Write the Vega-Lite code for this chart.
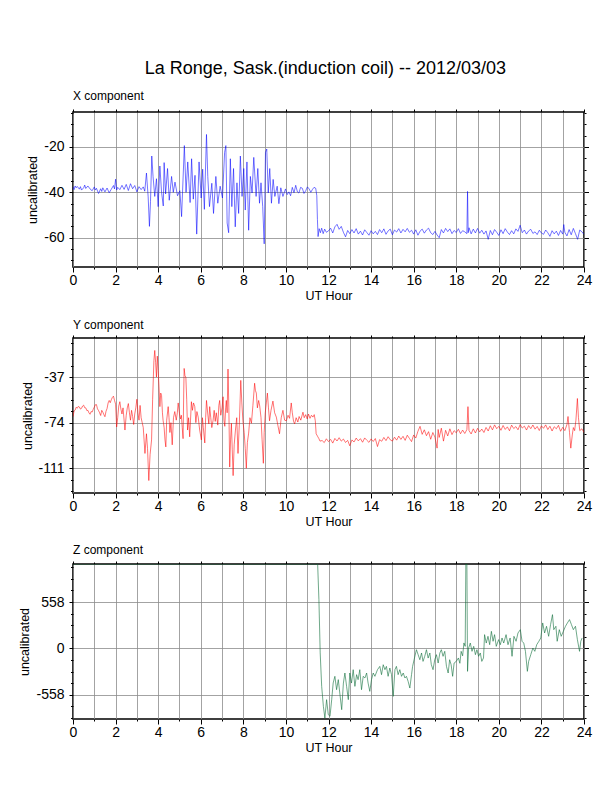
{
  "$schema": "https://vega.github.io/schema/vega-lite/v6.json",
  "background": "white",
  "padding": {"left": 18, "top": 60, "right": 5, "bottom": 5},
  "title": {
    "text": "La Ronge, Sask.(induction coil) -- 2012/03/03",
    "fontSize": 18,
    "fontWeight": "normal",
    "font": "Liberation Sans",
    "anchor": "middle",
    "dx": 20,
    "offset": 10.7
  },
  "spacing": 14,
  "datasets": {
    "xc": [
      {"t":0.0,"v":-37.5},{"t":0.05,"v":-38.8},{"t":0.1,"v":-37.2},{"t":0.15,"v":-38.0},{"t":0.2,"v":-37.4},{"t":0.3,"v":-38.6},{"t":0.35,"v":-37.5},{"t":0.4,"v":-39.0},{"t":0.5,"v":-38.0},{"t":0.55,"v":-36.8},{"t":0.6,"v":-38.3},{"t":0.7,"v":-37.2},{"t":0.8,"v":-38.5},{"t":0.9,"v":-39.3},{"t":1.0,"v":-37.6},{"t":1.05,"v":-39.0},{"t":1.1,"v":-38.2},{"t":1.2,"v":-40.5},{"t":1.3,"v":-38.4},{"t":1.35,"v":-39.6},{"t":1.4,"v":-38.0},{"t":1.5,"v":-39.8},{"t":1.6,"v":-38.1},{"t":1.7,"v":-40.2},{"t":1.8,"v":-38.6},{"t":1.9,"v":-37.0},{"t":1.95,"v":-38.5},{"t":2.0,"v":-34.2},{"t":2.05,"v":-39.0},{"t":2.1,"v":-37.8},{"t":2.2,"v":-38.8},{"t":2.3,"v":-36.9},{"t":2.4,"v":-38.7},{"t":2.5,"v":-36.5},{"t":2.6,"v":-39.2},{"t":2.7,"v":-36.2},{"t":2.8,"v":-38.4},{"t":2.9,"v":-37.0},{"t":3.0,"v":-39.8},{"t":3.1,"v":-37.5},{"t":3.2,"v":-38.8},{"t":3.3,"v":-37.6},{"t":3.37,"v":-39.5},{"t":3.45,"v":-31.5},{"t":3.53,"v":-42.0},{"t":3.59,"v":-55.0},{"t":3.64,"v":-44.0},{"t":3.7,"v":-24.0},{"t":3.76,"v":-33.0},{"t":3.84,"v":-41.8},{"t":3.92,"v":-34.0},{"t":4.0,"v":-46.3},{"t":4.08,"v":-28.4},{"t":4.16,"v":-40.0},{"t":4.24,"v":-46.0},{"t":4.28,"v":-26.9},{"t":4.35,"v":-40.7},{"t":4.44,"v":-29.5},{"t":4.52,"v":-43.5},{"t":4.63,"v":-33.0},{"t":4.71,"v":-40.0},{"t":4.79,"v":-35.5},{"t":4.91,"v":-41.5},{"t":5.02,"v":-39.3},{"t":5.1,"v":-50.7},{"t":5.23,"v":-19.4},{"t":5.31,"v":-40.0},{"t":5.39,"v":-26.6},{"t":5.5,"v":-44.5},{"t":5.57,"v":-25.2},{"t":5.65,"v":-43.0},{"t":5.73,"v":-32.5},{"t":5.81,"v":-58.4},{"t":5.92,"v":-26.6},{"t":6.02,"v":-42.5},{"t":6.09,"v":-29.8},{"t":6.17,"v":-47.5},{"t":6.27,"v":-14.5},{"t":6.33,"v":-33.0},{"t":6.41,"v":-46.3},{"t":6.52,"v":-36.0},{"t":6.6,"v":-49.3},{"t":6.71,"v":-33.0},{"t":6.8,"v":-44.8},{"t":6.91,"v":-37.3},{"t":7.02,"v":-42.5},{"t":7.12,"v":-22.4},{"t":7.18,"v":-19.4},{"t":7.24,"v":-53.5},{"t":7.31,"v":-57.8},{"t":7.39,"v":-25.2},{"t":7.46,"v":-46.3},{"t":7.54,"v":-29.5},{"t":7.62,"v":-55.2},{"t":7.7,"v":-35.8},{"t":7.78,"v":-49.3},{"t":7.86,"v":-24.0},{"t":7.94,"v":-41.8},{"t":8.02,"v":-29.5},{"t":8.09,"v":-47.8},{"t":8.17,"v":-26.6},{"t":8.25,"v":-56.7},{"t":8.33,"v":-33.0},{"t":8.41,"v":-40.3},{"t":8.49,"v":-24.6},{"t":8.6,"v":-41.8},{"t":8.68,"v":-29.5},{"t":8.76,"v":-44.8},{"t":8.83,"v":-35.8},{"t":8.91,"v":-46.3},{"t":8.98,"v":-62.7},{"t":9.04,"v":-22.4},{"t":9.1,"v":-20.9},{"t":9.17,"v":-40.3},{"t":9.24,"v":-29.5},{"t":9.32,"v":-44.8},{"t":9.4,"v":-34.3},{"t":9.48,"v":-41.8},{"t":9.59,"v":-37.3},{"t":9.67,"v":-45.0},{"t":9.76,"v":-38.0},{"t":9.86,"v":-41.8},{"t":9.98,"v":-38.5},{"t":10.06,"v":-41.0},{"t":10.14,"v":-39.8},{"t":10.22,"v":-41.5},{"t":10.3,"v":-37.8},{"t":10.38,"v":-40.2},{"t":10.46,"v":-36.9},{"t":10.54,"v":-39.8},{"t":10.61,"v":-40.3},{"t":10.69,"v":-37.8},{"t":10.77,"v":-38.2},{"t":10.85,"v":-40.5},{"t":10.93,"v":-39.3},{"t":11.01,"v":-37.6},{"t":11.09,"v":-38.5},{"t":11.17,"v":-40.0},{"t":11.24,"v":-38.8},{"t":11.32,"v":-37.8},{"t":11.4,"v":-38.2},{"t":11.45,"v":-41.5},{"t":11.48,"v":-52.0},{"t":11.51,"v":-59.5},{"t":11.56,"v":-56.0},{"t":11.62,"v":-57.8},{"t":11.68,"v":-55.8},{"t":11.75,"v":-58.2},{"t":11.82,"v":-56.2},{"t":11.9,"v":-57.6},
      {"t":12.0,"v":-57.0},{"t":12.1,"v":-55.8},{"t":12.2,"v":-57.9},{"t":12.3,"v":-55.2},{"t":12.4,"v":-54.1},{"t":12.5,"v":-56.3},{"t":12.6,"v":-55.0},{"t":12.7,"v":-57.6},{"t":12.8,"v":-59.6},{"t":12.9,"v":-56.8},{"t":13.0,"v":-58.2},{"t":13.1,"v":-56.4},{"t":13.2,"v":-57.9},{"t":13.3,"v":-56.0},{"t":13.4,"v":-58.4},{"t":13.5,"v":-57.1},{"t":13.6,"v":-58.8},{"t":13.7,"v":-56.5},{"t":13.8,"v":-57.7},{"t":13.9,"v":-58.9},{"t":14.0,"v":-56.9},{"t":14.1,"v":-58.3},{"t":14.2,"v":-57.2},{"t":14.3,"v":-58.6},{"t":14.4,"v":-56.4},{"t":14.5,"v":-57.8},{"t":14.6,"v":-56.1},{"t":14.7,"v":-58.5},{"t":14.8,"v":-57.0},{"t":14.9,"v":-56.2},{"t":15.0,"v":-58.7},{"t":15.1,"v":-56.6},{"t":15.2,"v":-57.5},{"t":15.3,"v":-56.0},{"t":15.4,"v":-57.9},{"t":15.5,"v":-56.3},{"t":15.6,"v":-57.4},{"t":15.7,"v":-55.9},{"t":15.8,"v":-57.6},{"t":15.9,"v":-56.7},{"t":16.0,"v":-58.4},{"t":16.1,"v":-56.5},{"t":16.2,"v":-58.9},{"t":16.3,"v":-57.1},{"t":16.4,"v":-56.2},{"t":16.5,"v":-58.0},{"t":16.6,"v":-56.6},{"t":16.7,"v":-55.8},{"t":16.8,"v":-57.8},{"t":16.9,"v":-58.6},{"t":17.0,"v":-57.2},{"t":17.1,"v":-58.8},{"t":17.2,"v":-60.0},{"t":17.3,"v":-56.4},{"t":17.4,"v":-57.9},{"t":17.5,"v":-55.9},{"t":17.6,"v":-57.3},{"t":17.7,"v":-56.1},{"t":17.8,"v":-58.2},{"t":17.9,"v":-56.8},{"t":18.0,"v":-57.7},{"t":18.1,"v":-56.0},{"t":18.2,"v":-58.1},{"t":18.3,"v":-56.9},{"t":18.4,"v":-57.4},{"t":18.5,"v":-58.2},{"t":18.53,"v":-39.6},{"t":18.56,"v":-57.8},{"t":18.6,"v":-55.6},{"t":18.7,"v":-58.3},{"t":18.8,"v":-56.2},{"t":18.9,"v":-57.9},{"t":19.0,"v":-55.9},{"t":19.1,"v":-58.0},{"t":19.2,"v":-56.7},{"t":19.3,"v":-58.4},{"t":19.4,"v":-57.0},{"t":19.5,"v":-60.7},{"t":19.6,"v":-56.8},{"t":19.7,"v":-58.7},{"t":19.8,"v":-56.4},{"t":19.9,"v":-57.6},{"t":20.0,"v":-59.0},{"t":20.1,"v":-56.5},{"t":20.2,"v":-58.2},{"t":20.3,"v":-56.0},{"t":20.4,"v":-57.5},{"t":20.5,"v":-58.6},{"t":20.6,"v":-56.9},{"t":20.7,"v":-58.3},{"t":20.8,"v":-56.1},{"t":20.9,"v":-57.2},{"t":21.0,"v":-54.5},{"t":21.1,"v":-57.8},{"t":21.2,"v":-56.6},{"t":21.3,"v":-58.4},{"t":21.4,"v":-57.0},{"t":21.5,"v":-56.3},{"t":21.6,"v":-58.1},{"t":21.7,"v":-57.4},{"t":21.8,"v":-58.6},{"t":21.9,"v":-56.7},{"t":22.0,"v":-57.9},{"t":22.1,"v":-58.5},{"t":22.2,"v":-56.6},{"t":22.3,"v":-57.8},{"t":22.4,"v":-59.4},{"t":22.5,"v":-56.9},{"t":22.6,"v":-58.3},{"t":22.7,"v":-57.1},{"t":22.8,"v":-59.0},{"t":22.9,"v":-56.8},{"t":23.0,"v":-58.4},{"t":23.05,"v":-54.2},{"t":23.1,"v":-57.6},{"t":23.2,"v":-59.2},{"t":23.3,"v":-56.4},{"t":23.4,"v":-58.7},{"t":23.5,"v":-55.9},{"t":23.6,"v":-58.2},{"t":23.7,"v":-60.7},{"t":23.8,"v":-56.6},{"t":23.9,"v":-57.4},{"t":24.0,"v":-58.5}
    ],
    "yc": [
      {"t":0.0,"v":-69.2},{"t":0.05,"v":-64.5},{"t":0.1,"v":-63.8},{"t":0.15,"v":-61.5},{"t":0.2,"v":-62.3},{"t":0.25,"v":-60.8},{"t":0.3,"v":-61.3},{"t":0.35,"v":-63.0},{"t":0.4,"v":-62.4},{"t":0.45,"v":-60.5},{"t":0.5,"v":-59.8},{"t":0.55,"v":-61.9},{"t":0.6,"v":-62.0},{"t":0.65,"v":-64.2},{"t":0.7,"v":-64.0},{"t":0.75,"v":-66.1},{"t":0.8,"v":-67.2},{"t":0.85,"v":-65.0},{"t":0.9,"v":-65.4},{"t":0.95,"v":-63.2},{"t":1.0,"v":-61.4},{"t":1.05,"v":-59.5},{"t":1.1,"v":-59.3},{"t":1.15,"v":-62.8},{"t":1.2,"v":-64.2},{"t":1.25,"v":-66.0},{"t":1.3,"v":-68.2},{"t":1.35,"v":-64.0},{"t":1.4,"v":-65.4},{"t":1.45,"v":-67.5},{"t":1.5,"v":-69.2},{"t":1.55,"v":-64.8},{"t":1.6,"v":-62.5},{"t":1.65,"v":-58.0},{"t":1.7,"v":-56.0},{"t":1.75,"v":-57.8},{"t":1.8,"v":-55.4},{"t":1.85,"v":-53.5},{"t":1.9,"v":-52.5},{"t":1.95,"v":-56.0},{"t":2.0,"v":-59.0},{"t":2.05,"v":-77.5},{"t":2.1,"v":-70.0},{"t":2.15,"v":-60.5},{"t":2.2,"v":-57.0},{"t":2.25,"v":-63.0},{"t":2.3,"v":-67.0},{"t":2.35,"v":-62.0},{"t":2.44,"v":-80.0},{"t":2.5,"v":-68.0},{"t":2.55,"v":-62.0},{"t":2.6,"v":-58.5},{"t":2.65,"v":-66.0},{"t":2.7,"v":-72.0},{"t":2.75,"v":-64.0},{"t":2.8,"v":-69.0},{"t":2.85,"v":-75.5},{"t":2.9,"v":-67.0},{"t":2.95,"v":-62.0},{"t":3.0,"v":-55.0},{"t":3.05,"v":-66.0},{"t":3.1,"v":-72.0},{"t":3.15,"v":-60.0},{"t":3.2,"v":-70.0},{"t":3.25,"v":-74.0},{"t":3.3,"v":-78.0},{"t":3.38,"v":-99.0},{"t":3.45,"v":-83.0},{"t":3.5,"v":-95.0},{"t":3.56,"v":-121.0},{"t":3.62,"v":-100.0},{"t":3.69,"v":-88.0},{"t":3.74,"v":-55.0},{"t":3.8,"v":-23.5},{"t":3.84,"v":-15.4},{"t":3.88,"v":-25.0},{"t":3.92,"v":-37.0},{"t":3.96,"v":-20.0},{"t":4.0,"v":-31.6},{"t":4.04,"v":-45.0},{"t":4.08,"v":-61.0},{"t":4.12,"v":-50.0},{"t":4.16,"v":-52.0},{"t":4.2,"v":-66.0},{"t":4.23,"v":-72.0},{"t":4.28,"v":-78.0},{"t":4.32,"v":-88.0},{"t":4.36,"v":-93.7},{"t":4.4,"v":-72.0},{"t":4.47,"v":-61.0},{"t":4.51,"v":-70.0},{"t":4.55,"v":-82.0},{"t":4.6,"v":-74.0},{"t":4.66,"v":-92.0},{"t":4.72,"v":-70.0},{"t":4.78,"v":-65.0},{"t":4.85,"v":-72.0},{"t":4.9,"v":-66.0},{"t":4.94,"v":-58.0},{"t":5.0,"v":-66.5},{"t":5.05,"v":-71.0},{"t":5.09,"v":-68.0},{"t":5.13,"v":-78.0},{"t":5.17,"v":-87.0},{"t":5.2,"v":-50.0},{"t":5.22,"v":-30.0},{"t":5.26,"v":-36.0},{"t":5.3,"v":-37.0},{"t":5.34,"v":-55.0},{"t":5.38,"v":-80.0},{"t":5.43,"v":-70.0},{"t":5.48,"v":-85.5},{"t":5.52,"v":-72.0},{"t":5.56,"v":-57.0},{"t":5.61,"v":-64.0},{"t":5.66,"v":-58.0},{"t":5.72,"v":-61.0},{"t":5.77,"v":-74.0},{"t":5.82,"v":-65.0},{"t":5.88,"v":-69.5},{"t":5.95,"v":-80.0},{"t":6.03,"v":-88.0},{"t":6.08,"v":-70.0},{"t":6.12,"v":-78.0},{"t":6.19,"v":-90.5},{"t":6.23,"v":-70.0},{"t":6.27,"v":-56.0},{"t":6.33,"v":-67.0},{"t":6.38,"v":-75.0},{"t":6.42,"v":-61.0},{"t":6.47,"v":-70.0},{"t":6.52,"v":-78.0},{"t":6.58,"v":-72.0},{"t":6.63,"v":-64.0},{"t":6.68,"v":-73.0},{"t":6.73,"v":-66.0},{"t":6.8,"v":-76.0},{"t":6.85,"v":-60.0},{"t":6.89,"v":-56.0},{"t":6.94,"v":-68.0},{"t":7.0,"v":-62.0},{"t":7.05,"v":-53.0},{"t":7.09,"v":-72.0},{"t":7.13,"v":-77.0},{"t":7.17,"v":-62.0},{"t":7.2,"v":-56.0},{"t":7.24,"v":-66.0},{"t":7.28,"v":-30.5},{"t":7.32,"v":-62.0},{"t":7.36,"v":-110.0},{"t":7.4,"v":-88.0},{"t":7.44,"v":-74.5},{"t":7.48,"v":-96.0},{"t":7.52,"v":-117.0},{"t":7.57,"v":-92.0},{"t":7.63,"v":-80.0},{"t":7.69,"v":-70.0},{"t":7.75,"v":-99.0},{"t":7.81,"v":-76.0},{"t":7.88,"v":-39.7},{"t":7.93,"v":-58.0},{"t":7.98,"v":-72.5},{"t":8.04,"v":-82.0},{"t":8.09,"v":-95.0},{"t":8.14,"v":-111.0},{"t":8.19,"v":-90.0},{"t":8.25,"v":-82.5},{"t":8.31,"v":-70.0},{"t":8.38,"v":-74.5},{"t":8.45,"v":-60.0},{"t":8.53,"v":-42.0},{"t":8.57,"v":-48.0},{"t":8.61,"v":-50.0},{"t":8.66,"v":-62.0},{"t":8.72,"v":-56.0},{"t":8.77,"v":-60.5},{"t":8.83,"v":-70.0},{"t":8.88,"v":-87.5},{"t":8.94,"v":-107.0},{"t":8.98,"v":-82.0},{"t":9.03,"v":-66.0},{"t":9.08,"v":-58.0},{"t":9.13,"v":-50.0},{"t":9.18,"v":-62.0},{"t":9.23,"v":-72.5},{"t":9.3,"v":-64.0},{"t":9.39,"v":-56.5},{"t":9.47,"v":-66.0},{"t":9.55,"v":-69.5},{"t":9.62,"v":-76.0},{"t":9.7,"v":-83.0},{"t":9.78,"v":-70.0},{"t":9.86,"v":-64.0},{"t":9.94,"v":-72.0},{"t":10.02,"v":-72.5},{"t":10.1,"v":-68.0},{"t":10.17,"v":-70.5},{"t":10.25,"v":-58.0},{"t":10.3,"v":-66.0},{"t":10.36,"v":-73.0},{"t":10.41,"v":-75.0},{"t":10.48,"v":-70.0},{"t":10.56,"v":-73.5},{"t":10.62,"v":-69.0},{"t":10.7,"v":-72.0},{"t":10.8,"v":-65.5},{"t":10.86,"v":-70.0},{"t":10.93,"v":-67.5},{"t":11.0,"v":-71.0},{"t":11.06,"v":-67.0},{"t":11.13,"v":-70.5},{"t":11.2,"v":-68.0},{"t":11.27,"v":-69.5},{"t":11.33,"v":-67.5},{"t":11.38,"v":-72.5},{"t":11.42,"v":-83.0},{"t":11.5,"v":-85.5},{"t":11.55,"v":-87.0},{"t":11.6,"v":-89.0},
      {"t":11.7,"v":-88.5},{"t":11.8,"v":-90.2},{"t":11.9,"v":-87.1},{"t":12.0,"v":-89.4},{"t":12.1,"v":-87.6},{"t":12.2,"v":-90.6},{"t":12.3,"v":-86.8},{"t":12.4,"v":-88.9},{"t":12.5,"v":-86.2},{"t":12.6,"v":-89.0},{"t":12.7,"v":-87.3},{"t":12.8,"v":-90.1},{"t":12.9,"v":-88.4},{"t":13.0,"v":-92.8},{"t":13.1,"v":-88.0},{"t":13.2,"v":-89.7},{"t":13.3,"v":-86.5},{"t":13.4,"v":-88.8},{"t":13.5,"v":-87.0},{"t":13.6,"v":-89.9},{"t":13.7,"v":-86.4},{"t":13.8,"v":-88.3},{"t":13.9,"v":-90.0},{"t":14.0,"v":-87.2},{"t":14.1,"v":-89.3},{"t":14.2,"v":-86.9},{"t":14.3,"v":-93.4},{"t":14.4,"v":-87.8},{"t":14.5,"v":-89.1},{"t":14.6,"v":-86.0},{"t":14.7,"v":-88.6},{"t":14.8,"v":-85.4},{"t":14.9,"v":-87.9},{"t":15.0,"v":-89.0},{"t":15.1,"v":-85.8},{"t":15.2,"v":-88.2},{"t":15.3,"v":-84.9},{"t":15.4,"v":-87.6},{"t":15.5,"v":-85.1},{"t":15.6,"v":-88.4},{"t":15.7,"v":-84.2},{"t":15.8,"v":-86.8},{"t":15.9,"v":-89.4},{"t":16.0,"v":-84.0},{"t":16.1,"v":-86.5},{"t":16.2,"v":-81.0},{"t":16.3,"v":-77.0},{"t":16.4,"v":-83.5},{"t":16.5,"v":-79.8},{"t":16.6,"v":-84.6},{"t":16.7,"v":-81.3},{"t":16.8,"v":-87.5},{"t":16.9,"v":-82.0},{"t":17.0,"v":-85.8},{"t":17.1,"v":-94.7},{"t":17.15,"v":-79.5},{"t":17.2,"v":-86.0},{"t":17.3,"v":-78.5},{"t":17.4,"v":-89.0},{"t":17.5,"v":-80.2},{"t":17.6,"v":-84.8},{"t":17.7,"v":-79.0},{"t":17.8,"v":-83.7},{"t":17.9,"v":-80.5},{"t":18.0,"v":-82.2},{"t":18.1,"v":-79.4},{"t":18.2,"v":-83.0},{"t":18.3,"v":-80.0},{"t":18.4,"v":-82.8},{"t":18.5,"v":-79.6},{"t":18.55,"v":-61.0},{"t":18.6,"v":-80.5},{"t":18.7,"v":-83.2},{"t":18.8,"v":-79.0},{"t":18.9,"v":-82.4},{"t":19.0,"v":-78.6},{"t":19.1,"v":-81.5},{"t":19.2,"v":-79.2},{"t":19.3,"v":-82.0},{"t":19.4,"v":-77.9},{"t":19.5,"v":-80.8},{"t":19.6,"v":-76.5},{"t":19.7,"v":-79.9},{"t":19.8,"v":-75.8},{"t":19.9,"v":-78.9},{"t":20.0,"v":-77.0},{"t":20.1,"v":-80.2},{"t":20.2,"v":-76.3},{"t":20.3,"v":-79.5},{"t":20.4,"v":-77.4},{"t":20.5,"v":-80.6},{"t":20.6,"v":-76.0},{"t":20.7,"v":-78.8},{"t":20.8,"v":-77.2},{"t":20.9,"v":-79.8},{"t":21.0,"v":-75.6},{"t":21.1,"v":-78.4},{"t":21.2,"v":-76.8},{"t":21.3,"v":-80.0},{"t":21.4,"v":-76.4},{"t":21.5,"v":-78.9},{"t":21.6,"v":-75.9},{"t":21.7,"v":-79.3},{"t":21.8,"v":-77.1},{"t":21.9,"v":-80.4},{"t":22.0,"v":-76.6},{"t":22.1,"v":-78.6},{"t":22.2,"v":-75.8},{"t":22.3,"v":-79.6},{"t":22.4,"v":-76.9},{"t":22.5,"v":-80.8},{"t":22.6,"v":-77.3},{"t":22.7,"v":-79.0},{"t":22.8,"v":-76.2},{"t":22.9,"v":-81.0},{"t":23.0,"v":-77.8},{"t":23.1,"v":-80.5},{"t":23.2,"v":-75.5},{"t":23.25,"v":-69.0},{"t":23.32,"v":-82.0},{"t":23.38,"v":-94.7},{"t":23.45,"v":-84.0},{"t":23.5,"v":-78.0},{"t":23.56,"v":-80.5},{"t":23.62,"v":-72.0},{"t":23.69,"v":-54.4},{"t":23.74,"v":-70.0},{"t":23.8,"v":-80.5},{"t":23.9,"v":-79.0},{"t":24.0,"v":-82.0}
    ],
    "zc": [
      {"t":0.0,"v":1016},{"t":6.0,"v":1016},{"t":11.49,"v":1016},{"t":11.55,"v":587},{"t":11.61,"v":-55},{"t":11.68,"v":-458},{"t":11.76,"v":-699},{"t":11.83,"v":-839},{"t":11.91,"v":-618},{"t":11.99,"v":-799},{"t":12.07,"v":-819},{"t":12.15,"v":-618},{"t":12.22,"v":-417},{"t":12.3,"v":-337},{"t":12.38,"v":-498},{"t":12.46,"v":-377},{"t":12.53,"v":-538},{"t":12.62,"v":-739},{"t":12.7,"v":-418},{"t":12.77,"v":-297},{"t":12.85,"v":-458},{"t":12.93,"v":-618},{"t":13.0,"v":-297},{"t":13.08,"v":-418},{"t":13.16,"v":-257},{"t":13.24,"v":-458},{"t":13.32,"v":-317},{"t":13.39,"v":-377},{"t":13.47,"v":-257},{"t":13.55,"v":-498},{"t":13.63,"v":-337},{"t":13.71,"v":-357},{"t":13.79,"v":-297},{"t":13.86,"v":-418},{"t":13.94,"v":-518},{"t":14.02,"v":-377},{"t":14.1,"v":-297},{"t":14.18,"v":-337},{"t":14.3,"v":-257},{"t":14.41,"v":-217},{"t":14.49,"v":-317},{"t":14.57,"v":-197},{"t":14.65,"v":-257},{"t":14.72,"v":-217},{"t":14.8,"v":-337},{"t":14.88,"v":-237},{"t":14.96,"v":-317},{"t":15.04,"v":-578},{"t":15.12,"v":-257},{"t":15.19,"v":-217},{"t":15.27,"v":-317},{"t":15.35,"v":-257},{"t":15.43,"v":-337},{"t":15.51,"v":-297},{"t":15.59,"v":-357},{"t":15.66,"v":-337},{"t":15.74,"v":-398},{"t":15.82,"v":-478},{"t":15.9,"v":-317},{"t":15.95,"v":-217},{"t":16.02,"v":-137},{"t":16.13,"v":-16},{"t":16.21,"v":-76},{"t":16.29,"v":-137},{"t":16.37,"v":-56},{"t":16.44,"v":-157},{"t":16.52,"v":-96},{"t":16.6,"v":-16},{"t":16.68,"v":-117},{"t":16.76,"v":-56},{"t":16.83,"v":-197},{"t":16.91,"v":-257},{"t":16.99,"v":-137},{"t":17.07,"v":-76},{"t":17.15,"v":-177},{"t":17.23,"v":-56},{"t":17.3,"v":-16},{"t":17.38,"v":-96},{"t":17.46,"v":-36},{"t":17.54,"v":-217},{"t":17.62,"v":-297},{"t":17.69,"v":-137},{"t":17.76,"v":-197},{"t":17.83,"v":-337},{"t":17.9,"v":-177},{"t":18.0,"v":-157},{"t":18.1,"v":-116},{"t":18.17,"v":-180},{"t":18.23,"v":-36},{"t":18.3,"v":-90},{"t":18.36,"v":65},{"t":18.42,"v":24},{"t":18.45,"v":1016},{"t":18.5,"v":1016},{"t":18.53,"v":-277},{"t":18.58,"v":4},{"t":18.66,"v":64},{"t":18.74,"v":-36},{"t":18.82,"v":24},{"t":18.9,"v":-76},{"t":18.97,"v":-16},{"t":19.05,"v":-96},{"t":19.13,"v":-56},{"t":19.2,"v":-157},{"t":19.28,"v":-116},{"t":19.33,"v":165},{"t":19.41,"v":64},{"t":19.49,"v":145},{"t":19.57,"v":44},{"t":19.65,"v":205},{"t":19.73,"v":85},{"t":19.8,"v":165},{"t":19.88,"v":24},{"t":19.99,"v":105},{"t":20.07,"v":44},{"t":20.15,"v":125},{"t":20.23,"v":64},{"t":20.34,"v":165},{"t":20.43,"v":44},{"t":20.53,"v":125},{"t":20.62,"v":-96},{"t":20.71,"v":145},{"t":20.81,"v":85},{"t":20.9,"v":185},{"t":21.01,"v":225},{"t":21.09,"v":85},{"t":21.17,"v":64},{"t":21.25,"v":-36},{"t":21.34,"v":-277},{"t":21.4,"v":-157},{"t":21.5,"v":-76},{"t":21.6,"v":4},{"t":21.69,"v":-36},{"t":21.78,"v":44},{"t":21.88,"v":85},{"t":21.97,"v":125},{"t":22.06,"v":306},{"t":22.15,"v":185},{"t":22.24,"v":266},{"t":22.34,"v":145},{"t":22.43,"v":286},{"t":22.52,"v":406},{"t":22.58,"v":225},{"t":22.68,"v":266},{"t":22.74,"v":85},{"t":22.84,"v":225},{"t":22.93,"v":145},{"t":23.03,"v":205},{"t":23.13,"v":266},{"t":23.22,"v":306},{"t":23.32,"v":346},{"t":23.41,"v":286},{"t":23.5,"v":225},{"t":23.6,"v":266},{"t":23.69,"v":105},{"t":23.79,"v":-36},{"t":23.85,"v":85},{"t":23.91,"v":125}
    ]
  },
  "vconcat": [
    {
      "title": {"text": "X component", "anchor": "start", "frame": "group", "fontSize": 12, "fontWeight": "normal", "offset": 3},
      "width": 511,
      "height": 155,
      "data": {"name": "xc"},
      "layer": [
        {
          "mark": {"type": "line", "stroke": "#0000ff", "strokeWidth": 0.55, "clip": true},
          "encoding": {
            "x": {"field": "t", "type": "quantitative", "scale": {"domain": [0, 24], "nice": false},
              "axis": {"orient": "bottom", "title": "UT Hour", "labelPadding": 1, "titlePadding": 2.5, "values": [0,1,2,3,4,5,6,7,8,9,10,11,12,13,14,15,16,17,18,19,20,21,22,23,24],
                "labelExpr": "datum.value % 2 == 0 ? '' + datum.value : ''", "grid": true,
                "tickSize": {"condition": {"test": "datum.value % 2 == 0", "value": 5}, "value": 2}}},
            "y": {"field": "v", "type": "quantitative", "scale": {"domain": [-72.9, -4.6], "nice": false, "zero": false},
              "axis": {"orient": "left", "title": "uncalibrated", "values": [-70,-65,-60,-55,-50,-45,-40,-35,-30,-25,-20,-15,-10,-5],
                "labelExpr": "datum.value % 20 == 0 ? '' + datum.value : ''", "grid": true,
                "gridOpacity": {"condition": {"test": "datum.value % 20 == 0", "value": 1}, "value": 0},
                "tickSize": {"condition": {"test": "datum.value % 20 == 0", "value": 4}, "value": 2.5}}}
          }
        },
        {
          "mark": {"type": "line", "strokeOpacity": 0},
          "encoding": {
            "x": {"field": "t", "type": "quantitative",
              "axis": {"orient": "top", "title": null, "labels": false, "grid": false, "values": [0,1,2,3,4,5,6,7,8,9,10,11,12,13,14,15,16,17,18,19,20,21,22,23,24],
                "tickSize": {"condition": {"test": "datum.value % 2 == 0", "value": 3}, "value": 2}}},
            "y": {"field": "v", "type": "quantitative",
              "axis": {"orient": "right", "title": null, "labels": false, "grid": false, "values": [-70,-65,-60,-55,-50,-45,-40,-35,-30,-25,-20,-15,-10,-5],
                "tickSize": {"condition": {"test": "datum.value % 20 == 0", "value": 4.5}, "value": 2}}}
          }
        }
      ],
      "resolve": {"axis": {"x": "independent", "y": "independent"}}
    },
    {
      "title": {"text": "Y component", "anchor": "start", "frame": "group", "fontSize": 12, "fontWeight": "normal", "offset": 3},
      "width": 511,
      "height": 155,
      "data": {"name": "yc"},
      "layer": [
        {
          "mark": {"type": "line", "stroke": "#ff0000", "strokeWidth": 0.55, "clip": true},
          "encoding": {
            "x": {"field": "t", "type": "quantitative", "scale": {"domain": [0, 24], "nice": false},
              "axis": {"orient": "bottom", "title": "UT Hour", "labelPadding": 1, "titlePadding": 2.5, "values": [0,1,2,3,4,5,6,7,8,9,10,11,12,13,14,15,16,17,18,19,20,21,22,23,24],
                "labelExpr": "datum.value % 2 == 0 ? '' + datum.value : ''", "grid": true,
                "tickSize": {"condition": {"test": "datum.value % 2 == 0", "value": 5}, "value": 2}}},
            "y": {"field": "v", "type": "quantitative", "scale": {"domain": [-131.1, -5.3], "nice": false, "zero": false},
              "axis": {"orient": "left", "title": "uncalibrated", "values": [-129.5,-120.25,-111,-101.75,-92.5,-83.25,-74,-64.75,-55.5,-46.25,-37,-27.75,-18.5,-9.25],
                "labelExpr": "datum.value % 37 == 0 ? '' + datum.value : ''", "grid": true,
                "gridOpacity": {"condition": {"test": "datum.value % 37 == 0", "value": 1}, "value": 0},
                "tickSize": {"condition": {"test": "datum.value % 37 == 0", "value": 4}, "value": 2.5}}}
          }
        },
        {
          "mark": {"type": "line", "strokeOpacity": 0},
          "encoding": {
            "x": {"field": "t", "type": "quantitative",
              "axis": {"orient": "top", "title": null, "labels": false, "grid": false, "values": [0,1,2,3,4,5,6,7,8,9,10,11,12,13,14,15,16,17,18,19,20,21,22,23,24],
                "tickSize": {"condition": {"test": "datum.value % 2 == 0", "value": 3}, "value": 2}}},
            "y": {"field": "v", "type": "quantitative",
              "axis": {"orient": "right", "title": null, "labels": false, "grid": false, "values": [-129.5,-120.25,-111,-101.75,-92.5,-83.25,-74,-64.75,-55.5,-46.25,-37,-27.75,-18.5,-9.25],
                "tickSize": {"condition": {"test": "datum.value % 37 == 0", "value": 4.5}, "value": 2}}}
          }
        }
      ],
      "resolve": {"axis": {"x": "independent", "y": "independent"}}
    },
    {
      "title": {"text": "Z component", "anchor": "start", "frame": "group", "fontSize": 12, "fontWeight": "normal", "offset": 3},
      "width": 511,
      "height": 155,
      "data": {"name": "zc"},
      "layer": [
        {
          "mark": {"type": "line", "stroke": "#0f6e3a", "strokeWidth": 0.6, "clip": true},
          "encoding": {
            "x": {"field": "t", "type": "quantitative", "scale": {"domain": [0, 24], "nice": false},
              "axis": {"orient": "bottom", "title": "UT Hour", "labelPadding": 1, "titlePadding": 2.5, "values": [0,1,2,3,4,5,6,7,8,9,10,11,12,13,14,15,16,17,18,19,20,21,22,23,24],
                "labelExpr": "datum.value % 2 == 0 ? '' + datum.value : ''", "grid": true,
                "tickSize": {"condition": {"test": "datum.value % 2 == 0", "value": 5}, "value": 2}}},
            "y": {"field": "v", "type": "quantitative", "scale": {"domain": [-851, 1016], "nice": false, "zero": false},
              "axis": {"orient": "left", "title": "uncalibrated", "values": [-837,-697.5,-558,-418.5,-279,-139.5,0,139.5,279,418.5,558,697.5,837,976.5],
                "labelExpr": "datum.value % 558 == 0 ? '' + datum.value : ''", "grid": true,
                "gridOpacity": {"condition": {"test": "datum.value % 558 == 0", "value": 1}, "value": 0},
                "tickSize": {"condition": {"test": "datum.value % 558 == 0", "value": 4}, "value": 2.5}}}
          }
        },
        {
          "mark": {"type": "line", "strokeOpacity": 0},
          "encoding": {
            "x": {"field": "t", "type": "quantitative",
              "axis": {"orient": "top", "title": null, "labels": false, "grid": false, "values": [0,1,2,3,4,5,6,7,8,9,10,11,12,13,14,15,16,17,18,19,20,21,22,23,24],
                "tickSize": {"condition": {"test": "datum.value % 2 == 0", "value": 3}, "value": 2}}},
            "y": {"field": "v", "type": "quantitative",
              "axis": {"orient": "right", "title": null, "labels": false, "grid": false, "values": [-837,-697.5,-558,-418.5,-279,-139.5,0,139.5,279,418.5,558,697.5,837,976.5],
                "tickSize": {"condition": {"test": "datum.value % 558 == 0", "value": 4.5}, "value": 2}}}
          }
        }
      ],
      "resolve": {"axis": {"x": "independent", "y": "independent"}}
    }
  ],
  "config": {
    "font": "Liberation Sans",
    "view": {"stroke": "black", "strokeWidth": 1.6},
    "axis": {
      "domain": false,
      "tickColor": "black",
      "tickWidth": 1,
      "gridColor": "#8c8c8c",
      "gridWidth": 0.8,
      "gridOpacity": 1,
      "labelFont": "Liberation Sans",
      "labelFontSize": 14,
      "labelColor": "black",
      "labelPadding": 5,
      "labelOverlap": false,
      "labelFlush": false,
      "titleFont": "Liberation Sans",
      "titleFontSize": 12.5,
      "titleFontWeight": "normal",
      "titleColor": "black",
      "titlePadding": 4
    },
    "title": {"color": "black", "font": "Liberation Sans"}
  }
}
